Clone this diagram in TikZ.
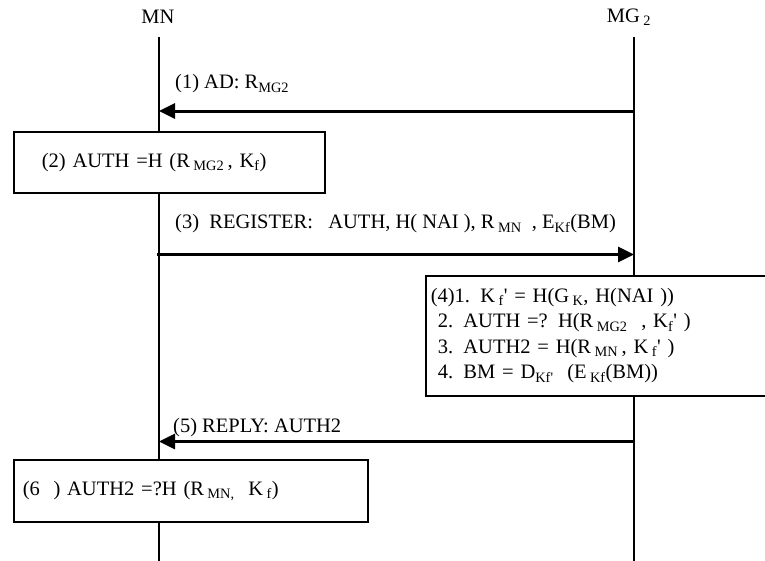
\documentclass[tikz,border=0pt]{standalone}
\usepackage{fontspec}
\setmainfont{Liberation Serif}
\usetikzlibrary{arrows.meta,positioning}

\newcommand{\pr}{\textquotesingle}

\begin{document}
\begin{tikzpicture}[
    x=1pt, y=-1pt,
    every node/.style={font=\fontsize{20.5}{25.5}\selectfont, inner sep=0pt},
    lifeline/.style={line width=1.6pt},
    msg/.style={line width=3pt, -{Triangle[length=16pt,width=15pt]}},
    msglabel/.style={anchor=west},
    actionbox/.style={draw, line width=1.6pt, fill=white, align=left, anchor=north west}
  ]
  \useasboundingbox (0,0) rectangle (765,560);

  % Entities
  \node (mn) at (158,17) {MN};
  \node (mg) at (629,17) {MG\,\textsubscript{2}};

  % Lifelines
  \coordinate (mntop) at (159,37);
  \coordinate (mnend) at (159,562);
  \coordinate (mgtop) at (634,37);
  \coordinate (mgend) at (634,562);
  \draw[lifeline] (mntop) -- (mnend);
  \draw[lifeline] (mgtop) -- (mgend);

  % (1) Advertisement
  \coordinate (mg1) at (634,111);
  \coordinate (mn1) at (159,111);
  \draw[msg] (mg1) -- (mn1);
  \node[msglabel] (adlbl) at (175,84) {(1) AD: R\textsubscript{MG2}};

  % (2) MN computes AUTH
  \node[actionbox, text width=255pt, inner xsep=28pt, minimum height=61pt] (auth) at (13,131)
    {(2) AUTH =H (R\,\textsubscript{MG2}\,, K\textsubscript{f})};

  % (3) Register
  \coordinate (mn3) at (157,254.5);
  \coordinate (mg3) at (634,254.5);
  \draw[msg] (mn3) -- (mg3);
  \node[msglabel] (reglbl) at (175,224)
    {(3)\ \ REGISTER:\ \ \ AUTH, H( NAI ), R\,\textsubscript{MN}\ \ , E\textsubscript{Kf}(BM)};

  % (4) MG2 checks
  \node[actionbox, text width=340pt, inner xsep=5pt, minimum height=120pt] (check) at (425,275)
    {(4)1. K\,\textsubscript{f}\pr{} = H(G\,\textsubscript{K}, H(NAI ))\\
     \hspace*{7pt}2. AUTH =? H(R\,\textsubscript{MG2}\ \ , K\textsubscript{f}\pr\ )\\
     \hspace*{7pt}3. AUTH2 = H(R\,\textsubscript{MN}\,, K\,\textsubscript{f}\pr\ )\\
     \hspace*{7pt}4. BM = D\textsubscript{Kf\pr}\ \ (E\,\textsubscript{Kf}(BM))};

  % (5) Reply
  \coordinate (mg5) at (634,441.5);
  \coordinate (mn5) at (159,441.5);
  \draw[msg] (mg5) -- (mn5);
  \node[msglabel] (replbl) at (173,428) {(5) REPLY: AUTH2};

  % (6) MN verifies AUTH2
  \node[actionbox, text width=336pt, inner xsep=9pt, minimum height=62pt] (verify) at (13,459)
    {(6\ \ ) AUTH2 =?H (R\,\textsubscript{MN,}\ \ K\,\textsubscript{f})};
\end{tikzpicture}
\end{document}
